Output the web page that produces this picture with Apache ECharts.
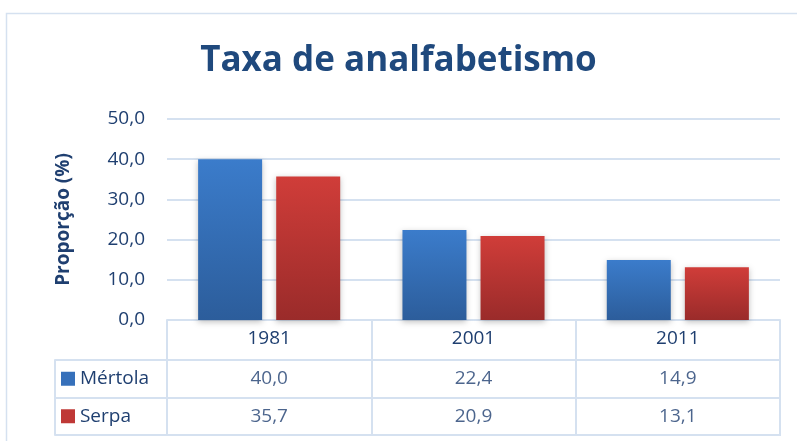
<!DOCTYPE html>
<html>
<head>
<meta charset="utf-8">
<title>Taxa de analfabetismo</title>
<script src="https://cdn.jsdelivr.net/npm/echarts@6/dist/echarts.min.js"></script>
<style>
  html, body { margin: 0; padding: 0; background: #fff; }
  #chart { width: 797px; height: 441px; }
</style>
</head>
<body>
<div id="chart"></div>
<script>
// dados
const anos = ['1981', '2001', '2011'];
const concelhos = ['Mértola', 'Serpa'];
const mertola = [40.0, 22.4, 14.9];
const serpa = [35.7, 20.9, 13.1];
const yTicks = [0, 10, 20, 30, 40, 50];

const corTexto = '#1F3F70';
const corLinha = '#D5E1F0';
const fmt = v => v.toFixed(1).replace('.', ',');

function grad(top, bottom) {
    return new echarts.graphic.LinearGradient(0, 0, 0, 1, [
        {offset: 0, color: top},
        {offset: 1, color: bottom}
    ]);
}
const coresTopo = ['#3B7CCB', '#D03D39'];
const coresBase = ['#2C5D9B', '#9A2B2A'];
const coresLegenda = ['#3670BA', '#BF3836'];

// celulas da tabela
const celulas = [];
[mertola, serpa].forEach((serie, r) => {
    serie.forEach((v, c) => celulas.push([anos[c], concelhos[r], v]));
});

const chart = echarts.init(document.getElementById('chart'));
chart.setOption({
    animation: false,
    textStyle: {fontFamily: 'Open Sans', color: corTexto},
    title: {
        text: 'Taxa de analfabetismo',
        left: 'center',
        top: 39,
        textStyle: {fontSize: 35, fontWeight: 'bold', color: '#1F497D', fontFamily: 'Open Sans'}
    },
    graphic: [{
        type: 'rect',
        shape: {x: 6.5, y: 13.5, width: 800, height: 440},
        style: {fill: null, stroke: corLinha, lineWidth: 1.5},
        silent: true
    }],
    grid: [
        {left: 167, right: 17, top: 119, height: 201},
        {left: 167, right: 17, top: 360, height: 75, show: true, borderColor: corLinha, borderWidth: 2}
    ],
    xAxis: [
        {
            type: 'category', gridIndex: 0, data: anos,
            axisLine: {lineStyle: {color: corLinha, width: 2}},
            axisTick: {show: true, length: 40, lineStyle: {color: corLinha, width: 2}},
            axisLabel: {color: corTexto, fontSize: 19, margin: 9}
        },
        {
            type: 'category', gridIndex: 1, data: anos,
            axisLine: {show: false}, axisTick: {show: false}, axisLabel: {show: false},
            splitLine: {show: true, lineStyle: {color: corLinha, width: 2}}
        }
    ],
    yAxis: [
        {
            type: 'value', gridIndex: 0, min: 0, max: 50, interval: 10,
            name: 'Proporção (%)', nameLocation: 'middle', nameGap: 94,
            nameTextStyle: {fontSize: 19, fontWeight: 'bold', color: corTexto},
            axisLabel: {color: corTexto, fontSize: 19, margin: 22, formatter: v => fmt(v)},
            axisLine: {show: false}, axisTick: {show: false},
            splitLine: {lineStyle: {color: corLinha, width: 2}}
        },
        {
            type: 'category', gridIndex: 1, data: concelhos, inverse: true,
            axisLine: {show: false},
            axisTick: {show: true, length: 112, lineStyle: {color: corLinha, width: 2}},
            splitLine: {show: true, lineStyle: {color: corLinha, width: 2}},
            axisLabel: {
                align: 'left', margin: 106, fontSize: 19, color: corTexto,
                formatter: (v, i) => '{q' + i + '|}' + ' ' + v,
                rich: {
                    q0: {width: 14, height: 14, backgroundColor: coresLegenda[0]},
                    q1: {width: 14, height: 14, backgroundColor: coresLegenda[1]}
                }
            }
        },
        {
            type: 'value', gridIndex: 1, offset: 112, position: 'left',
            axisLine: {show: true, lineStyle: {color: corLinha, width: 2}},
            axisTick: {show: false}, axisLabel: {show: false}, splitLine: {show: false}
        }
    ],
    series: [
        {
            name: concelhos[0], type: 'bar', xAxisIndex: 0, yAxisIndex: 0,
            data: mertola, barWidth: 64, barGap: '22%',
            itemStyle: {color: grad(coresTopo[0], coresBase[0]), shadowColor: 'rgba(0,0,0,0.25)', shadowBlur: 6, shadowOffsetY: 2}
        },
        {
            name: concelhos[1], type: 'bar', xAxisIndex: 0, yAxisIndex: 0,
            data: serpa, barWidth: 64,
            itemStyle: {color: grad(coresTopo[1], coresBase[1]), shadowColor: 'rgba(0,0,0,0.25)', shadowBlur: 6, shadowOffsetY: 2}
        },
        {
            type: 'scatter', xAxisIndex: 1, yAxisIndex: 1,
            data: celulas, symbolSize: 0,
            encode: {x: 0, y: 1},
            label: {
                show: true, position: 'inside', fontSize: 19, color: corTexto,
                formatter: p => fmt(p.value[2])
            }
        }
    ]
});
</script>
</body>
</html>
